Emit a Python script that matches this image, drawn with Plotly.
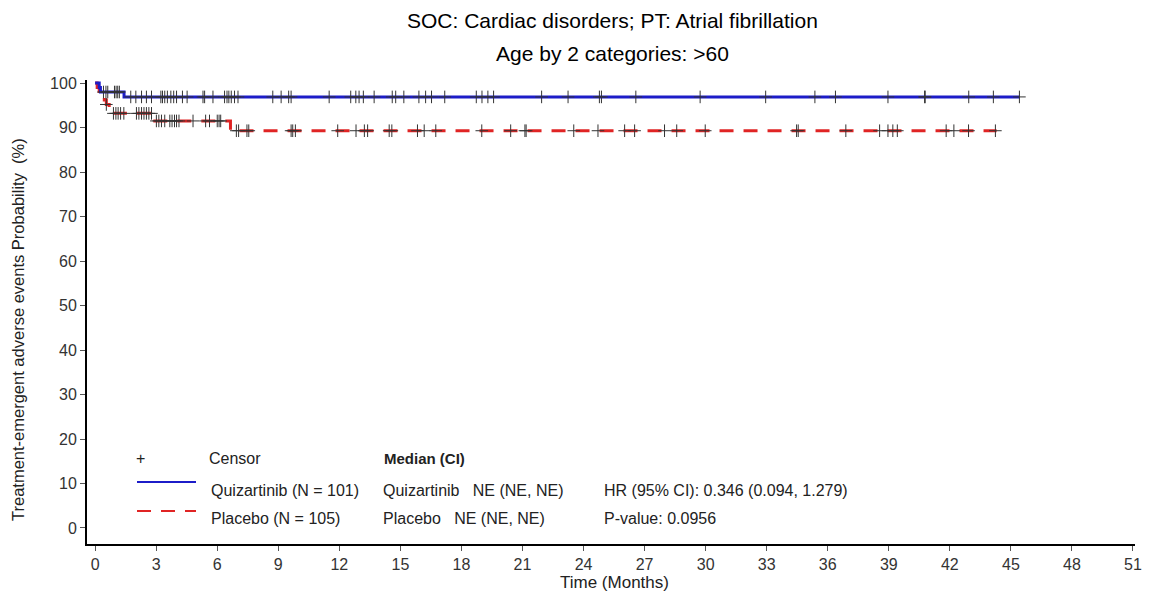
import numpy as np
import plotly.graph_objects as go

# Kaplan-Meier step data (months, % without event)
quiz_event_times = [0.2, 0.26, 1.42]
quiz_levels = [99.0, 98.0, 96.9]
quiz_end = 45.42
quiz_censor = [0.41, 0.53, 0.62, 0.95, 1.03, 1.11, 1.19, 1.75, 2.0, 2.28, 2.52, 2.77,
               3.23, 3.31, 3.42, 3.55, 3.72, 3.86, 4.0, 4.29, 4.52, 5.30, 5.38, 5.79,
               6.36, 6.48, 6.57, 6.69, 6.85, 7.02, 8.73, 9.14, 9.51, 9.63, 11.50, 12.56,
               12.81, 12.97, 13.18, 13.71, 14.60, 14.77, 15.17, 15.91, 16.24, 16.53,
               17.18, 18.73, 19.01, 19.30, 19.58, 21.94, 23.24, 24.78, 24.88, 26.57,
               29.73, 32.95, 35.37, 36.38, 38.96, 40.76, 40.79, 42.93, 44.14, 45.42]

plac_event_times = [0.1, 0.2, 0.3, 0.45, 0.55, 0.69, 2.85, 6.65]
plac_levels = [99.0, 98.1, 97.1, 96.2, 95.2, 93.2, 91.5, 89.3]
plac_end = 44.3
plac_censor = [0.55, 0.9, 1.02, 1.13, 1.25, 1.41, 2.03, 2.15, 2.28, 2.4, 2.52, 2.64, 2.77,
               3.01, 3.13, 3.26, 3.42, 3.67, 3.78, 3.9, 4.0, 4.12, 4.81, 5.43, 5.62, 6.0,
               6.09, 6.17, 6.94, 7.05, 7.46, 7.55, 9.63, 9.71, 9.84, 11.92, 12.82, 13.23,
               13.39, 14.45, 14.58, 15.84, 16.17, 16.74, 19.0, 20.42, 21.12, 21.18, 23.52,
               24.71, 26.02, 26.51, 27.98, 28.58, 29.98, 34.47, 34.55, 36.89, 38.55, 38.96,
               39.2, 39.42, 41.82, 42.2, 42.92, 44.24]

x_ticks = list(range(0, 52, 3))
y_ticks = list(range(0, 101, 10))

BLUE = '#1c1cc8'
RED = '#e02424'
FONT = 'Liberation Sans, Arial, sans-serif'

# page body has an 8px margin, so the figure sits at (8, 8) in the window
OFF = 8
W, H = 1154 - OFF, 598 - OFF
# plot area in window pixels (as in the reference)
L, R, T, B = 87, 1135, 80, 544


def step_xy(times, levels, end):
    xs, ys = [0.0], [100.0]
    for t, lv in zip(times, levels):
        xs.append(t)
        ys.append(lv)
    xs.append(end)
    ys.append(levels[-1])
    return xs, ys


def level_at(t, times, levels):
    lv = 100.0
    for et, l in zip(times, levels):
        if et <= t:
            lv = l
    return lv


def px(xp, yp):
    # window pixel -> paper coords
    return (xp - L) / (R - L), (B - yp) / (B - T)


fig = go.Figure()

for times, levels, end, cens, color, dash in [
    (plac_event_times, plac_levels, plac_end, plac_censor, RED, '14px,10px'),
    (quiz_event_times, quiz_levels, quiz_end, quiz_censor, BLUE, 'solid'),
]:
    xs, ys = step_xy(times, levels, end)
    fig.add_trace(go.Scatter(x=xs, y=ys, mode='lines', line_shape='hv',
                             line=dict(color=color, width=3, dash=dash),
                             showlegend=False, hoverinfo='skip'))
    cy = [level_at(t, times, levels) for t in cens]
    fig.add_trace(go.Scatter(x=cens, y=cy, mode='markers',
                             marker=dict(symbol='cross-thin', size=9,
                                         line=dict(color='#333333', width=1)),
                             showlegend=False, hoverinfo='skip'))

fig.update_layout(
    width=W, height=H,
    margin=dict(l=L - OFF, r=W - (R - OFF), t=T - OFF, b=H - (B - OFF), autoexpand=False),
    paper_bgcolor='white', plot_bgcolor='white',
    font=dict(family=FONT, size=16, color='#222222'),
    showlegend=False,
)

fig.update_xaxes(range=[-0.4, 51.1], tickvals=x_ticks, ticks='outside', ticklen=5,
                 tickcolor='#555555', showgrid=False, zeroline=False,
                 showline=True, linecolor='black', linewidth=2,
                 tickfont=dict(size=16, color='#333333'))
fig.update_yaxes(range=[-3.6, 100.7], tickvals=y_ticks, ticks='outside', ticklen=5,
                 tickcolor='#555555', showgrid=False, zeroline=False,
                 showline=True, linecolor='black', linewidth=2,
                 tickfont=dict(size=16, color='#333333'))

# titles
for text, yp in [('SOC: Cardiac disorders; PT: Atrial fibrillation', 21),
                 ('Age by 2 categories: >60', 53)]:
    ax, ay = px(612, yp)
    fig.add_annotation(text=text, x=ax, y=ay, xref='paper', yref='paper',
                       showarrow=False, xanchor='center', yanchor='middle',
                       font=dict(size=21, color='black'))

# axis titles
ax, ay = px(614, 582)
fig.add_annotation(text='Time (Months)', x=ax, y=ay, xref='paper', yref='paper',
                   showarrow=False, xanchor='center', yanchor='middle',
                   font=dict(size=17, color='#222222'))
ax, ay = px(18, 330)
fig.add_annotation(text='Treatment-emergent adverse events Probability  (%)',
                   x=ax, y=ay, xref='paper', yref='paper', textangle=-90,
                   showarrow=False, xanchor='center', yanchor='middle',
                   font=dict(size=16.5, color='#222222'))

# legend block
legend_texts = [
    ('+', 140, 458, 'center', False),
    ('Censor', 207, 458, 'left', False),
    ('Median (CI)', 382, 458, 'left', True),
    ('Quizartinib (N = 101)', 209, 490, 'left', False),
    ('Placebo (N = 105)', 209, 518, 'left', False),
    ('Quizartinib   NE (NE, NE)', 381, 490, 'left', False),
    ('Placebo   NE (NE, NE)', 381, 518, 'left', False),
    ('HR (95% CI): 0.346 (0.094, 1.279)', 602, 490, 'left', False),
    ('P-value: 0.0956', 602, 518, 'left', False),
]
for text, xp, yp, anchor, bold in legend_texts:
    ax, ay = px(xp, yp)
    fig.add_annotation(text=f'<b>{text}</b>' if bold else text, x=ax, y=ay,
                       xref='paper', yref='paper', showarrow=False,
                       xanchor=anchor, yanchor='middle',
                       font=dict(size=16 if not bold else 15, color='#222222'))

x0, y0 = px(137, 482)
x1, _ = px(196, 482)
fig.add_shape(type='line', xref='paper', yref='paper', x0=x0, x1=x1, y0=y0, y1=y0,
              line=dict(color=BLUE, width=2))
x0, y0 = px(137, 511)
x1, _ = px(196, 511)
fig.add_shape(type='line', xref='paper', yref='paper', x0=x0, x1=x1, y0=y0, y1=y0,
              line=dict(color=RED, width=2, dash='14px,10px'))

fig.write_html("out.html")
